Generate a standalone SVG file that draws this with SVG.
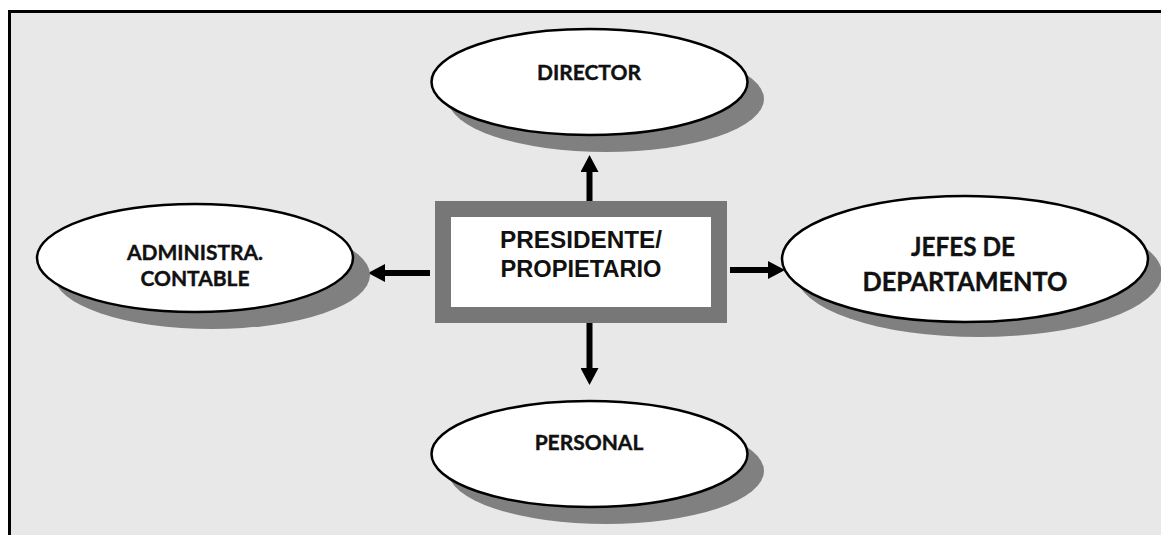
<svg xmlns="http://www.w3.org/2000/svg" width="1161" height="535" viewBox="0 0 1161 535">
<style>
.shadow{fill:#808080;}
.ell{fill:#ffffff;stroke:#000000;stroke-width:2.5;}
.lbl{font-family:Lato,"Open Sans","Noto Sans",sans-serif;font-weight:bold;fill:#111111;stroke:#111111;stroke-width:0.4;text-anchor:middle;}
.ctr{font-family:"Liberation Sans",Arial,sans-serif;font-weight:bold;fill:#111111;text-anchor:middle;font-size:23.5px;}
.conn{stroke:#000000;stroke-width:6;fill:none;marker-end:url(#ah);}
</style>
<defs>
<marker id="ah" markerUnits="userSpaceOnUse" markerWidth="17" markerHeight="18" refX="0" refY="9" orient="auto">
<path d="M0,0 L17,9 L0,18 z" fill="#000000"/>
</marker>
</defs>
<rect x="0" y="0" width="1161" height="535" fill="#ffffff"/>
<rect x="11" y="13" width="1150" height="522" fill="#e8e8e8"/>
<path d="M9.5,535 L9.5,11.5 L1161,11.5" fill="none" stroke="#000000" stroke-width="3"/>
<g id="connectors">
<line class="conn" x1="589.5" y1="201" x2="589.5" y2="172"/>
<line class="conn" x1="589.5" y1="323" x2="589.5" y2="368"/>
<line class="conn" x1="430" y1="273" x2="385" y2="273"/>
<line class="conn" x1="730" y1="270" x2="768" y2="270"/>
</g>
<g id="presidente">
<rect x="443" y="209" width="276" height="106" fill="#ffffff" stroke="#777777" stroke-width="16"/>
<text class="ctr" x="581" y="248" textLength="162" lengthAdjust="spacingAndGlyphs">PRESIDENTE/</text>
<text class="ctr" x="581" y="277" textLength="161" lengthAdjust="spacingAndGlyphs">PROPIETARIO</text>
</g>
<g id="director">
<ellipse class="shadow" cx="606" cy="99" rx="158" ry="53"/>
<ellipse class="ell" cx="589.5" cy="82" rx="158" ry="53"/>
<text class="lbl" x="589" y="80" font-size="21">DIRECTOR</text>
</g>
<g id="administra">
<ellipse class="shadow" cx="212" cy="275" rx="158" ry="54"/>
<ellipse class="ell" cx="195" cy="258" rx="158" ry="54"/>
<text class="lbl" x="195" y="260" font-size="21">ADMINISTRA.</text>
<text class="lbl" x="195" y="286" font-size="21">CONTABLE</text>
</g>
<g id="jefes">
<ellipse class="shadow" cx="979" cy="274" rx="183" ry="63"/>
<ellipse class="ell" cx="965" cy="259" rx="183" ry="63"/>
<text class="lbl" x="963" y="256" font-size="26" textLength="104" lengthAdjust="spacingAndGlyphs">JEFES DE</text>
<text class="lbl" x="965" y="291" font-size="26" textLength="205" lengthAdjust="spacingAndGlyphs">DEPARTAMENTO</text>
</g>
<g id="personal">
<ellipse class="shadow" cx="606" cy="471" rx="158" ry="53"/>
<ellipse class="ell" cx="589.5" cy="454" rx="158" ry="53"/>
<text class="lbl" x="589" y="450" font-size="21">PERSONAL</text>
</g>
</svg>
